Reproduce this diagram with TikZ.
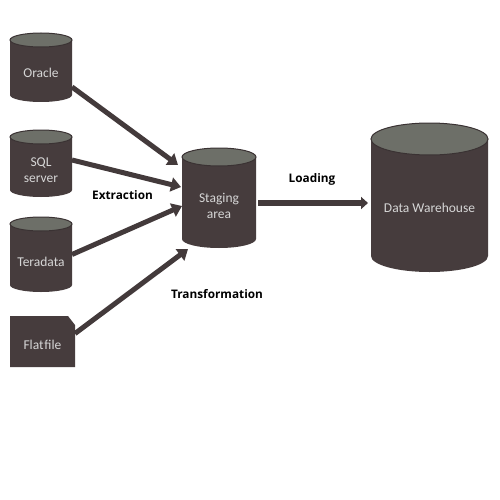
\documentclass[tikz,border=0pt]{standalone}
\usepackage{fontspec}
\setmainfont{Carlito}
\newfontfamily\labelfont{Open Sans}
\usetikzlibrary{arrows.meta,calc}
\definecolor{dbbody}{HTML}{463C3D}
\definecolor{dbtop}{HTML}{6D6F68}
\definecolor{dbline}{HTML}{3A3233}
\definecolor{dbtext}{HTML}{D6D6D6}
\definecolor{arrowc}{HTML}{433A3B}
\tikzset{
  holder/.style={rectangle,inner sep=0pt,outer sep=0pt,draw=none},
  dblabel/.style={text=dbtext,font=\fontsize{13.5}{15.5}\selectfont,align=center,inner sep=0pt},
  steplabel/.style={font=\labelfont\bfseries\fontsize{11.8}{13}\selectfont,inner sep=0pt},
  flow/.style={draw=arrowc,line width=5pt,-{Triangle[width=14pt,length=10pt]}},
  loadflow/.style={draw=arrowc,line width=5.5pt,-{Triangle[width=12pt,length=7pt]}}
}
% \dbcyl{name}{left}{right}{top}{bottom}{ry}
\newcommand{\dbcyl}[6]{%
  \pgfmathsetmacro{\cx}{(#2+#3)/2}%
  \pgfmathsetmacro{\hw}{(#3-#2)/2}%
  \fill[dbbody] (#2,#4+#6) -- (#2,#5-#6) arc[start angle=180,end angle=360,x radius=\hw,y radius=-#6] -- (#3,#4+#6) -- cycle;
  \filldraw[fill=dbtop,draw=dbline,line width=1pt] (\cx,#4+#6) ellipse[x radius=\hw,y radius=#6];
  \node[holder,minimum width={(#3-#2)*1pt},minimum height={(#5-#4)*1pt}] (#1) at (\cx,{(#4+#5)/2}) {};
}
\begin{document}
\begin{tikzpicture}[x=1pt,y=-1pt]
\useasboundingbox (0,0) rectangle (500,500);
\fill[white] (0,0) rectangle (500,500);
% sources
\dbcyl{oracle}{10}{72}{33}{102}{7}
\node[dblabel] at (41,73) {Oracle};
\dbcyl{sql}{10}{72}{130}{197}{7}
\node[dblabel] at (41,170) {SQL\\server};
\dbcyl{tera}{10}{72}{217}{292}{7}
\node[dblabel] at (41,262) {Teradata};
% flat file
\fill[dbbody] (10,316) -- (68,316) -- (75,325) -- (75,367) -- (10,367) -- cycle;
\node[holder,minimum width=65pt,minimum height=51pt] (flat) at (42.5,341.5) {};
\node[dblabel] at (42.5,345) {Flat\hspace{0.8pt}file};
% staging
\dbcyl{staging}{182}{256}{148}{248}{9}
\node[dblabel] at (219,206) {Staging\\area};
% warehouse
\dbcyl{dw}{371}{488}{123}{272}{16}
\node[dblabel] at (429.5,208) {Data Warehouse};
% arrows
\draw[flow] ([shift={(0,19.5)}]oracle.east) -- ([shift={(-4,-33)}]staging.west);
\draw[flow] ([shift={(0,-3.5)}]sql.east) -- ([shift={(-1,-11)}]staging.west);
\draw[flow] (tera.east) -- ([shift={(0,8)}]staging.west);
\draw[flow] ([shift={(0,-8)}]flat.east) -- ([shift={(6,1)}]staging.south west);
\draw[loadflow] ([shift={(2,5)}]staging.east) -- ([shift={(-3,5.5)}]dw.west);
% labels
\node[steplabel] (ext) at (122.5,195) {Extraction};
\node[steplabel] (load) at (312,179) {Loading};
\node[steplabel] (trans) at (217,294) {Transformation};
\end{tikzpicture}
\end{document}
